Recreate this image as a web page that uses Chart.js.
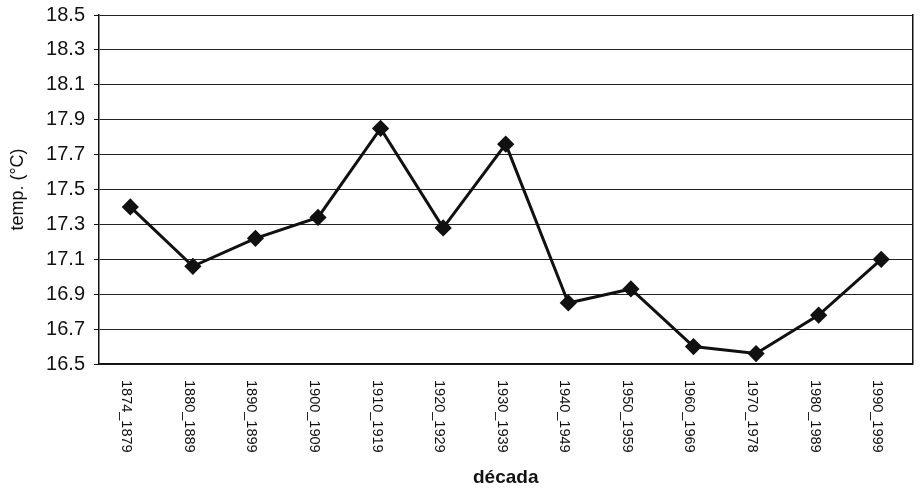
<!DOCTYPE html>
<html>
<head>
<meta charset="utf-8">
<script src="https://cdn.jsdelivr.net/npm/chart.js@4.4.1/dist/chart.umd.min.js"></script>
<style>
  html, body { margin: 0; padding: 0; background: #fff; }
  #wrap { width: 922px; height: 490px; }
</style>
</head>
<body>
<div id="wrap"><canvas id="chart" width="922" height="490"></canvas></div>
<script>
// decades on the x axis
var decades = ["1874_1879", "1880_1889", "1890_1899", "1900_1909", "1910_1919",
  "1920_1929", "1930_1939", "1940_1949", "1950_1959", "1960_1969",
  "1970_1978", "1980_1989", "1990_1999"];

// mean temperature per decade
var temps = [17.40, 17.06, 17.22, 17.34, 17.85, 17.28, 17.76, 16.85, 16.93,
  16.60, 16.56, 16.78, 17.10];

// y axis range and step
var yMin = 16.5;
var yMax = 18.5;
var yStep = 0.2;

var ink = "#111";

// x labels in the reference read top to bottom, so draw them ourselves
var downLabels = {
  id: "downLabels",
  afterDraw: function (chart) {
    var scale = chart.scales.x;
    var ctx = chart.ctx;
    ctx.save();
    ctx.fillStyle = ink;
    ctx.font = "14.5px 'Liberation Sans', Arial, sans-serif";
    ctx.textAlign = "left";
    ctx.textBaseline = "middle";
    for (var i = 0; i < decades.length; i++) {
      var x = scale.getPixelForTick(i) - 4;
      ctx.save();
      ctx.translate(x, scale.top + 16);
      ctx.rotate(Math.PI / 2);
      ctx.fillText(decades[i], 0, 0);
      ctx.restore();
    }
    ctx.restore();
  }
};

var ctx = document.getElementById("chart");
var myChart = new Chart(ctx, {
  type: "line",
  data: {
    labels: decades,
    datasets: [{
      data: temps,
      borderColor: ink,
      backgroundColor: ink,
      borderWidth: 3,
      pointStyle: "rectRot",
      pointRadius: 6.5,
      pointBackgroundColor: ink,
      pointBorderColor: ink,
      fill: false,
      tension: 0
    }]
  },
  options: {
    responsive: false,
    animation: false,
    layout: { padding: { top: 15, right: 6, bottom: 0, left: 0 } },
    plugins: {
      legend: { display: false },
      tooltip: { enabled: false }
    },
    scales: {
      x: {
        offset: true,
        grid: { display: false, drawTicks: false },
        border: { display: true, color: ink, width: 1.5 },
        ticks: { display: false },
        title: {
          display: true,
          text: "década",
          color: ink,
          font: { family: "'Liberation Sans', Arial, sans-serif", size: 19, weight: "bold" },
          padding: { top: 0, bottom: 1 }
        },
        afterFit: function (scale) { scale.height = 126; }
      },
      y: {
        min: yMin,
        max: yMax,
        ticks: {
          stepSize: yStep,
          padding: 9,
          color: ink,
          font: { family: "'Liberation Sans', Arial, sans-serif", size: 20 },
          callback: function (v) { return Number(v).toFixed(1); }
        },
        grid: { color: "#222", lineWidth: 1, tickLength: 5, tickColor: ink },
        border: { display: true, color: ink, width: 1.5 },
        title: {
          display: true,
          text: "temp. (°C)",
          color: ink,
          font: { family: "'Liberation Sans', Arial, sans-serif", size: 18 },
          padding: { top: 7 }
        },
        afterFit: function (scale) {
          scale.width = 99;
          scale.paddingTop = 0;
          scale.paddingBottom = 0;
        }
      },
      y2: {
        position: "right",
        min: yMin,
        max: yMax,
        ticks: { display: false },
        grid: { drawOnChartArea: false, drawTicks: false },
        border: { display: true, color: ink, width: 1.5 },
        afterFit: function (scale) {
          scale.width = 0;
          scale.paddingTop = 0;
          scale.paddingBottom = 0;
        }
      }
    }
  },
  plugins: [downLabels]
});
</script>
</body>
</html>
